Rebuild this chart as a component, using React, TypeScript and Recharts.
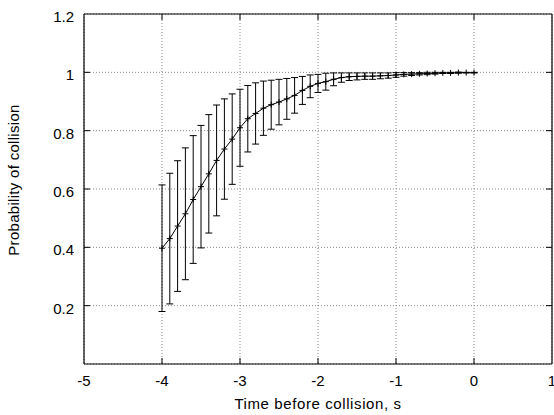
import React from 'react';
import { LineChart, Line, XAxis, YAxis, CartesianGrid, ErrorBar, ReferenceLine } from 'recharts';

const times = [
  -4.0, -3.9, -3.8, -3.7, -3.6, -3.5, -3.4, -3.3, -3.2, -3.1,
  -3.0, -2.9, -2.8, -2.7, -2.6, -2.5, -2.4, -2.3, -2.2, -2.1,
  -2.0, -1.9, -1.8, -1.7, -1.6, -1.5, -1.4, -1.3, -1.2, -1.1,
  -1.0, -0.9, -0.8, -0.7, -0.6, -0.5, -0.4, -0.3, -0.2, -0.1, 0.0,
];
const probability = [
  0.397, 0.430, 0.473, 0.515, 0.564, 0.608, 0.652, 0.698, 0.737, 0.771,
  0.810, 0.841, 0.859, 0.877, 0.889, 0.898, 0.909, 0.921, 0.938, 0.952,
  0.962, 0.968, 0.976, 0.982, 0.985, 0.986, 0.987, 0.987, 0.988, 0.989,
  0.991, 0.993, 0.994, 0.995, 0.996, 0.997, 0.998, 0.998, 0.999, 0.999, 0.999,
];
const stdError = [
  0.217, 0.224, 0.224, 0.226, 0.219, 0.210, 0.203, 0.190, 0.172, 0.155,
  0.132, 0.114, 0.105, 0.093, 0.084, 0.078, 0.070, 0.061, 0.048, 0.039,
  0.031, 0.029, 0.022, 0.016, 0.013, 0.012, 0.011, 0.011, 0.010, 0.009,
  0.008, 0.006, 0.005, 0.004, 0.004, 0.003, 0.002, 0.002, 0.002, 0.001, 0.001,
];
const xTicks = [-5, -4, -3, -2, -1, 0, 1];
const xTickLabels = ['-5', '-4', '-3', '-2', '-1', '0', '1'];
const yTicks = [0, 0.2, 0.4, 0.6, 0.8, 1, 1.2];
const yTickLabels = ['', '0.2', '0.4', '0.6', '0.8', '1', '1.2'];

const xLabel = 'Time before collision, s';
const yLabel = 'Probability of collision';

const data = times.map((t, i) => ({ t, p: probability[i], e: stdError[i] }));

const W = 554;
const H = 415;
const PLOT_LEFT = 84;
const PLOT_TOP = 14;
const PLOT_RIGHT = 552;
const PLOT_BOTTOM = 364;
const FONT = '"Liberation Sans", Arial, sans-serif';
const TICK_LEN = 6;

const XTick = (props: any) => {
  const { x, y, payload } = props;
  const idx = xTicks.indexOf(payload.value);
  const label = idx >= 0 ? xTickLabels[idx] : String(payload.value);
  const edge = idx === 0 || idx === xTicks.length - 1;
  return (
    <g>
      {!edge && <line x1={x} x2={x} y1={PLOT_BOTTOM} y2={PLOT_BOTTOM - TICK_LEN} stroke="#000" />}
      {!edge && <line x1={x} x2={x} y1={PLOT_TOP} y2={PLOT_TOP + TICK_LEN} stroke="#000" />}
      <text x={x} y={y + 22} textAnchor="middle" fontSize={15} fontFamily={FONT} fill="#000">
        {label}
      </text>
    </g>
  );
};

const YTick = (props: any) => {
  const { x, y, payload } = props;
  const idx = yTicks.indexOf(payload.value);
  const label = idx >= 0 ? yTickLabels[idx] : String(payload.value);
  const edge = idx === 0 || idx === yTicks.length - 1;
  return (
    <g>
      {!edge && <line x1={PLOT_LEFT} x2={PLOT_LEFT + TICK_LEN} y1={y} y2={y} stroke="#000" />}
      {!edge && <line x1={PLOT_RIGHT} x2={PLOT_RIGHT - TICK_LEN} y1={y} y2={y} stroke="#000" />}
      <text x={x - 10} y={y + 8} textAnchor="end" fontSize={15} fontFamily={FONT} fill="#000">
        {label}
      </text>
    </g>
  );
};

const PlusDot = (props: any) => {
  const { cx, cy, index } = props;
  if (cx == null || cy == null) return <g key={index} />;
  return (
    <g key={index}>
      <line x1={cx - 3} x2={cx + 3} y1={cy} y2={cy} stroke="#000" />
      <line x1={cx} x2={cx} y1={cy - 3} y2={cy + 3} stroke="#000" />
    </g>
  );
};

export default function App() {
  return (
    <div style={{ position: 'absolute', left: 0, top: 0, width: W, height: H, background: '#fff' }}>
      <LineChart
        width={W}
        height={H}
        data={data}
        margin={{ top: PLOT_TOP, right: W - PLOT_RIGHT, left: 0, bottom: 0 }}
      >
        <CartesianGrid stroke="#888" strokeDasharray="1 2" />
        <XAxis
          dataKey="t"
          type="number"
          domain={[-5, 1]}
          ticks={xTicks}
          interval={0}
          height={H - PLOT_BOTTOM}
          tickLine={false}
          tickSize={0}
          tickMargin={0}
          stroke="#000"
          axisLine={{ stroke: '#000', strokeWidth: 1.2 }}
          tick={<XTick />}
          allowDataOverflow
          label={{
            content: (p: any) => {
              const vb = p.viewBox;
              return (
                <text
                  x={vb.x + vb.width / 2}
                  y={409}
                  textAnchor="middle"
                  fontSize={15}
                  letterSpacing={0.6}
                  fontFamily={FONT}
                  fill="#000"
                >
                  {xLabel}
                </text>
              );
            },
          }}
        />
        <YAxis
          type="number"
          domain={[0, 1.2]}
          ticks={yTicks}
          interval={0}
          width={PLOT_LEFT}
          tickLine={false}
          tickSize={0}
          tickMargin={0}
          axisLine={{ stroke: '#000', strokeWidth: 1.2 }}
          tick={<YTick />}
          allowDataOverflow
          label={{
            content: () => {
              const cy = 180;
              const cx = 19;
              return (
                <text
                  x={cx}
                  y={cy}
                  transform={`rotate(-90, ${cx}, ${cy})`}
                  textAnchor="middle"
                  fontSize={15}
                  letterSpacing={0.3}
                  fontFamily={FONT}
                  fill="#000"
                >
                  {yLabel}
                </text>
              );
            },
          }}
        />
        <ReferenceLine y={1.2} stroke="#000" strokeWidth={1.2} />
        <ReferenceLine x={1} stroke="#000" strokeWidth={1.2} />
        <Line
          type="linear"
          dataKey="p"
          stroke="#000"
          strokeWidth={1}
          dot={<PlusDot />}
          activeDot={false}
          isAnimationActive={false}
        >
          <ErrorBar dataKey="e" direction="y" width={3.5} stroke="#000" strokeWidth={1} isAnimationActive={false} />
        </Line>
      </LineChart>
    </div>
  );
}
